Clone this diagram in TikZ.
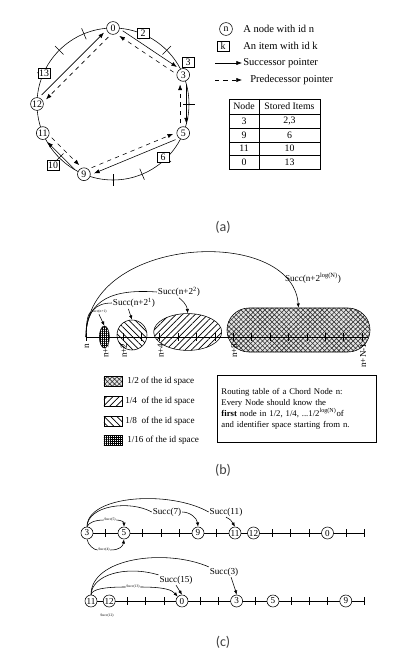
\documentclass[tikz,border=0pt]{standalone}
\usepackage{fontspec}
\setmainfont{Liberation Serif}
\newfontfamily\capfont{Carlito}
\usetikzlibrary{calc,arrows.meta,patterns.meta,shapes.geometric,shapes.misc}
\newcommand{\setfs}[2]{\fontsize{#1}{#2}\selectfont}
\tikzset{
  ringnode/.style={circle,draw,fill=white,inner sep=0pt,minimum size=0.32cm,font=\setfs{7}{7}},
  itembox/.style={draw,fill=white,inner sep=0pt,minimum width=0.3cm,minimum height=0.26cm,font=\setfs{7}{7}},
  succ/.style={->,shorten <=0.24cm,shorten >=0.24cm},
  pred/.style={succ,dashed},
  legtext/.style={anchor=west,inner sep=0pt,font=\setfs{7.5}{8}},
  cell/.style={inner sep=0pt,font=\setfs{7}{7}},
  tickmark/.style={thin},
  halfpat/.style={preaction={fill=gray!20},pattern={Hatch[angle=45,distance=2.4pt,line width=0.45pt]},pattern color=black!80},
  quarterpat/.style={pattern={Lines[angle=45,distance=3.2pt,line width=0.5pt]}},
  eighthpat/.style={pattern={Lines[angle=-45,distance=3.2pt,line width=0.5pt]}},
  sixteenthpat/.style={pattern={Hatch[angle=0,distance=1.4pt,line width=0.35pt]}},
  succlabel/.style={fill=white,inner sep=0.5pt,font=\setfs{6.5}{7}},
  tinylabel/.style={fill=white,inner sep=0.3pt,font=\setfs{2.6}{3}},
  ticklabel/.style={rotate=90,anchor=east,inner sep=1pt,font=\setfs{6.5}{6.5}},
  chordnode/.style={circle,draw,fill=white,inner sep=0pt,minimum size=0.3cm,font=\setfs{6.5}{6.5}},
  swatch/.style={draw,inner sep=0pt,minimum width=0.45cm,minimum height=0.25cm},
  capt/.style={font=\capfont\setfs{10}{10},text=black!75},
  smallarrow/.style={-{Latex[length=3pt,width=2.4pt]}}
}
\begin{document}
\begin{tikzpicture}[x=0.025cm,y=-0.025cm,>={Latex[length=4pt,width=3pt]}]
  \useasboundingbox (0,0) rectangle (403,656);

  % (a) ring with 16 ids, id 0 on top
  \draw (113,104) circle (76);
  \foreach \id in {1,2,4,6,7,8,10,13,14,15}
    \draw[tickmark] ({113+70*cos(90-22.5*\id)},{104-70*sin(90-22.5*\id)})
      -- ({113+82*cos(90-22.5*\id)},{104-82*sin(90-22.5*\id)});
  \foreach \id in {0,3,5,9,11,12}
    \node[ringnode] (r\id) at ({113+76*cos(90-22.5*\id)},{104-76*sin(90-22.5*\id)}) {\id};
  \node[itembox] (i2) at (143,33) {2};
  \node[itembox] (i3) at (188,62) {3};
  \node[itembox] (i6) at (163,157) {6};
  \node[itembox] (i10) at (53,165) {10};
  \node[itembox] (i13) at (44,73) {13};
  % successor outside, predecessor inside
  \foreach \a/\b in {0/3,3/5,5/9,9/11,12/0} {
    \draw[succ] ($(r\a)!2.2pt!90:(r\b)$) -- ($(r\b)!2.2pt!-90:(r\a)$);
    \draw[pred] ($(r\b)!2.2pt!90:(r\a)$) -- ($(r\a)!2.2pt!-90:(r\b)$);
  }

  % (a) legend
  \node[ringnode] (legn) at (226,29) {n};
  \node[legtext] (legntext) at (243,29) {A node with id n};
  \node[itembox] (legk) at (223,46) {k};
  \node[legtext] (legktext) at (243,46) {An item with id k};
  \coordinate (sa) at (215,63);
  \coordinate (sb) at (242,63);
  \draw[->] (sa) -- (sb);
  \node[legtext] (legs) at (243,63) {Successor pointer};
  \coordinate (pa) at (215,80);
  \coordinate (pb) at (242,80);
  \draw[->,dashed] (pa) -- (pb);
  \node[legtext] (legp) at (250,80) {Predecessor pointer};

  % (a) table
  \draw (229,99) rectangle (320,169);
  \draw (259,99) -- (259,169);
  \foreach \y in {114,128,142,155} \draw[line width=0.7pt] (229,\y) -- (320,\y);
  \node[cell] (hnode) at (244,106.5) {Node};
  \node[cell] (hitems) at (289.5,106.5) {Stored Items};
  \foreach \nd/\it/\y in {3/{2,3}/121,9/6/135,11/10/148.5,0/13/162} {
    \node[cell] (nd\nd) at (244,\y) {\nd};
    \node[cell] (it\nd) at (289.5,\y) {\it};
  }
  \node[capt] (capa) at (223,227) {(a)};

  % (b) finger intervals of node n
  \node[draw,rounded rectangle,halfpat,inner sep=0pt,minimum width=3.575cm,minimum height=1.1cm] (sp2) at (298.5,330) {};
  \node[draw,ellipse,quarterpat,inner sep=0pt,minimum width=1.7cm,minimum height=0.92cm] (sp4) at (187.7,332) {};
  \node[draw,circle,eighthpat,inner sep=0pt,minimum size=0.75cm] (sp8) at (132,335) {};
  \node[draw,ellipse,sixteenthpat,inner sep=0pt,minimum width=0.25cm,minimum height=0.55cm] (sp16) at (104.4,337) {};
  \coordinate (nstart) at (86,337);
  \draw (nstart) -- (368,337);
  \foreach \k in {0,...,15} \draw[tickmark] ({86+18.4*\k},333) -- ({86+18.4*\k},341);
  \foreach \k/\t in {0/n,1/n+1,2/n+2,4/n+4,8/n+8,15/n+N-1}
    \node[ticklabel] (lb\k) at ({87+18.4*\k},342) {\t};
  \node[tinylabel] (sq1) at (99,312) {Succ(n+1)};
  \draw (nstart) .. controls (86,318) and (89,313) .. (sq1.west);
  \draw[smallarrow] (sq1.south) -- (sp16.north);
  \node[succlabel] (sq2) at (134,303) {Succ(n+2\textsuperscript{1})};
  \draw (nstart) .. controls (86,312) and (95,303) .. (sq2.west);
  \draw[smallarrow] ([xshift=-4pt]sq2.south) -- (sp8.north);
  \node[succlabel] (sq3) at (179,292) {Succ(n+2\textsuperscript{2})};
  \draw (nstart) .. controls (86,298) and (115,289) .. (sq3.west);
  \draw[smallarrow] (sq3.south) .. controls (182,300) and (187,305) .. (sp4.north);
  \node[succlabel,fill=none] (sq4) at (313,278) {Succ(n+2\textsuperscript{log(N)})};
  \draw[smallarrow] (nstart) .. controls (86,235) and (292,225) .. (sp2.north);

  % (b) legend and note
  \node[swatch,halfpat] (sw2) at (113,381) {};
  \node[legtext,font=\setfs{6.5}{7}] (sw2text) at (127,381) {1/2 of the id space};
  \node[swatch,quarterpat] (sw4) at (113,401) {};
  \node[legtext,font=\setfs{6.5}{7}] (sw4text) at (125,401) {1/4\ \ of the id space};
  \node[swatch,eighthpat] (sw8) at (113,421) {};
  \node[legtext,font=\setfs{6.5}{7}] (sw8text) at (125,421) {1/8\ \ of the id space};
  \node[swatch,sixteenthpat] (sw16) at (113,440) {};
  \node[legtext,font=\setfs{6.5}{7}] (sw16text) at (127,440) {1/16 of the id space};
  \node[draw,minimum width=3.975cm,minimum height=1.675cm,text width=3.75cm,align=left,inner sep=0pt,font=\setfs{6.2}{7.8}] (rtable) at (296.5,408.5)
    {Routing table of a Chord Node n:\\Every Node should know the\\\textbf{first} node in 1/2, 1/4, ...1/2\textsuperscript{log(N)}of\\and identifier space starting from n.};
  \node[capt] (capb) at (223,470) {(b)};

  % (c) fingers of node 3
  \draw (87,533) -- (365,533);
  \foreach \k in {4,6,7,8,10,13,14,15,17,18}
    \draw[tickmark] ({87+18.5*(\k-3)},529) -- ({87+18.5*(\k-3)},537);
  \foreach \id/\k in {3/3,5/5,9/9,11/11,12/12,0/16}
    \node[chordnode] (p\id) at ({87+18.5*(\k-3)},533) {\id};
  \node[tinylabel] (tp5) at (110,520) {Succ(5)};
  \draw (p3.north) .. controls (88,523) and (95,520) .. (tp5.west);
  \draw[smallarrow] (tp5.east) .. controls (121,520) and (124,522) .. (p5.north);
  \node[tinylabel] (tp4) at (104,550) {Succ(4)};
  \draw (p3.south) .. controls (88,545) and (94,550) .. (tp4.west);
  \draw[smallarrow] (tp4.east) .. controls (120,550) and (123,546) .. (p5.south);
  \node[succlabel] (tp7) at (167,512) {Succ(7)};
  \draw (p3.north) .. controls (88,505) and (130,500) .. (tp7.west);
  \draw[smallarrow] (tp7.east) .. controls (190,512) and (197,518) .. (p9.north);
  \node[succlabel] (tp11) at (226,512) {Succ(11)};
  \draw (p3.north) .. controls (87,495) and (170,490) .. (tp11.west);
  \draw[smallarrow] (tp11.south) .. controls (231,520) .. (p11.north);

  % (c) fingers of node 11
  \draw (91,601) -- (364,601);
  \foreach \k in {13,14,15,17,18,20,22,23,24,26}
    \draw[tickmark] ({91+18.2*(\k-11)},597) -- ({91+18.2*(\k-11)},605);
  \foreach \id/\k in {11/11,12/12,0/16,3/19,5/21,9/25}
    \node[chordnode] (q\id) at ({91+18.2*(\k-11)},601) {\id};
  \node[tinylabel] (tq12) at (107,616) {Succ(12)};
  \node[tinylabel] (tq13) at (133,587) {Succ(13)};
  \draw (q11.north) .. controls (92,589) and (105,587) .. (tq13.west);
  \draw[smallarrow] (tq13.east) .. controls (165,587) and (172,590) .. (q0.north west);
  \node[succlabel] (tq15) at (176,580) {Succ(15)};
  \draw (q11.north) .. controls (92,575) and (125,565) .. (tq15.north west);
  \draw[smallarrow] (tq15.south) -- (q0.north);
  \node[succlabel] (tq3) at (224,572) {Succ(3)};
  \draw (q11.north) .. controls (91,558) and (165,548) .. (tq3.north west);
  \draw[smallarrow] ([xshift=5pt]tq3.south) .. controls (234,584) .. (q3.north);
  \node[capt] (capc) at (223,642) {(c)};
\end{tikzpicture}
\end{document}
